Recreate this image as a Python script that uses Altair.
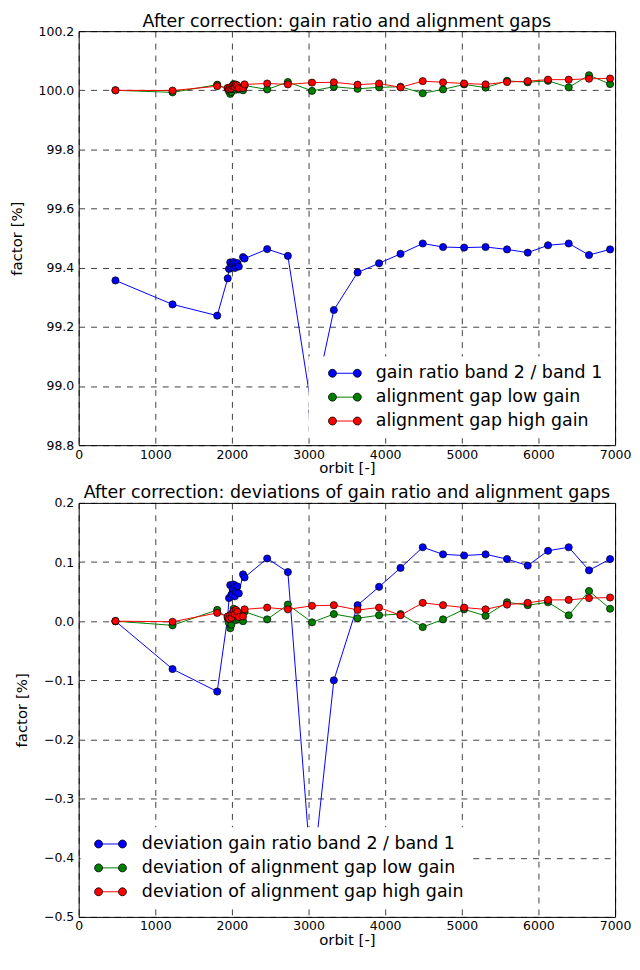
import altair as alt
import pandas as pd

# ---------------- data ----------------
orbit = [480, 1225, 1808,
         1945, 1962, 1978, 1993, 2008, 2023, 2038, 2053, 2070, 2090, 2145, 2165,
         2460, 2730, 3045, 3330, 3640, 3920, 4200, 4490, 4755, 5030, 5310,
         5590, 5860, 6125, 6395, 6660, 6935]

gain_ratio = [99.357, 99.276, 99.238,
              99.364, 99.396, 99.418, 99.402, 99.412, 99.419, 99.399, 99.407, 99.416, 99.404, 99.436, 99.431,
              99.463, 99.440, 98.914, 99.257, 99.384, 99.415, 99.447, 99.482, 99.470, 99.468, 99.470,
              99.462, 99.451, 99.476, 99.482, 99.443, 99.462]

gap_low = [100.000, 99.993, 100.019,
           100.005, 99.997, 99.988, 99.994, 100.004, 100.021, 100.018, 100.002, 100.012, 100.003, 100.000, 100.016,
           100.003, 100.028, 99.998, 100.012, 100.005, 100.010, 100.012, 99.990, 100.003, 100.020, 100.009,
           100.032, 100.027, 100.032, 100.010, 100.051, 100.021]

gap_high = [100.000, 99.999, 100.014,
            100.008, 100.004, 100.010, 100.006, 100.014, 100.017, 100.012, 100.019, 100.016, 100.007, 100.008, 100.020,
            100.023, 100.020, 100.026, 100.027, 100.019, 100.023, 100.010, 100.031, 100.027, 100.023, 100.020,
            100.028, 100.031, 100.036, 100.036, 100.039, 100.040]

top_labels = ["gain ratio band 2 / band 1",
              "alignment gap low gain",
              "alignment gap high gain"]
bot_labels = ["deviation gain ratio band 2 / band 1",
              "deviation of alignment gap low gain",
              "deviation of alignment gap high gain"]
colors = ["#0000ff", "#008000", "#ff0000"]
keys = ["a", "b", "c"]

x_ticks = [0, 1000, 2000, 3000, 4000, 5000, 6000, 7000]
top_y_ticks = [98.8, 99.0, 99.2, 99.4, 99.6, 99.8, 100.0, 100.2]
bot_y_ticks = [-0.5, -0.4, -0.3, -0.2, -0.1, 0.0, 0.1, 0.2]

FONT = "DejaVu Sans"


def long_table(series, labels):
    rows = []
    for lab, key, vals in zip(labels, keys, series):
        for o, v in zip(orbit, vals):
            rows.append({"orbit": o, "value": v, "series": lab, "key": key})
    return pd.DataFrame(rows)


top_df = long_table([gain_ratio, gap_low, gap_high], top_labels)
dev_series = [[v - s[0] for v in s] for s in (gain_ratio, gap_low, gap_high)]
bot_df = long_table(dev_series, bot_labels)


def circle(cx, r=0.5):
    return (f"M{cx - r:.3f},0A{r},{r} 0 1,0 {cx + r:.3f},0"
            f"A{r},{r} 0 1,0 {cx - r:.3f},0Z")


def panel(df, labels, title, ydom, yticks, lx, ly, c1, c2, label_offset):
    xenc = alt.X("orbit:Q",
                 scale=alt.Scale(domain=[0, 7000], nice=False, zero=False),
                 axis=alt.Axis(values=x_ticks, format="d", title="orbit [-]"))
    yenc = alt.Y("value:Q",
                 scale=alt.Scale(domain=ydom, nice=False, zero=False),
                 axis=alt.Axis(values=yticks, format=".1f", title="factor [%]"))
    common = dict(title=None, orient="none", legendX=lx, legendY=ly,
                  symbolSize=256, padding=8, labelOffset=label_offset,
                  rowPadding=5, labelFontSize=17.5, labelFont=FONT,
                  labelColor="black", labelLimit=0)
    stroke_leg = alt.Legend(symbolType=f"M{c1},0L{c2},0", symbolStrokeWidth=1,
                            symbolFillColor="transparent", fillColor="white",
                            zindex=1, **common)
    # second legend only supplies the black-edged markers of each entry
    fill_leg = alt.Legend(symbolType=circle(c1) + circle(c2),
                          symbolStrokeColor="black", symbolStrokeWidth=0.8,
                          labelExpr="' '", zindex=2, **common)
    layers = []
    for key in keys:
        sub = alt.Chart(df).transform_filter(alt.datum.key == key)
        layers.append(
            sub.mark_line(strokeWidth=1).encode(
                x=xenc, y=yenc,
                stroke=alt.Stroke("series:N",
                                  scale=alt.Scale(domain=labels, range=colors),
                                  legend=stroke_leg)))
        layers.append(
            sub.mark_circle(size=52, opacity=1, stroke="black", strokeWidth=0.7).encode(
                x=xenc, y=yenc,
                fill=alt.Fill("key:N",
                              scale=alt.Scale(domain=keys, range=colors),
                              legend=fill_leg)))
    return alt.layer(*layers).properties(
        width=539, height=416,
        title=alt.TitleParams(title, fontSize=17.5, font=FONT, fontWeight="normal",
                              anchor="middle", frame="group", offset=-5, color="black"))


# legend entries start 8px inside the box; symbol centre = entry left + 8.75 px,
# one path unit = 8 px
top = panel(top_df, top_labels, "After correction: gain ratio and alignment gaps",
            [98.8, 100.2], top_y_ticks, 231, 327, 0.906, 4.031, 42)
bottom = panel(bot_df, bot_labels,
               "After correction: deviations of gain ratio and alignment gaps",
               [-0.5, 0.2], bot_y_ticks, 2, 326, 0.156, 3.156, 36)

chart = (
    alt.vconcat(top, bottom, spacing=8)
    .resolve_scale(stroke="independent", fill="independent")
    .resolve_legend(stroke="independent", fill="independent")
    .properties(padding={"left": 0, "top": 2, "right": 0, "bottom": 0})
    .configure_axis(labelFont=FONT, labelFontSize=12.5, labelColor="black",
                    titleFont=FONT, titleFontSize=15, titleFontWeight="normal",
                    titleColor="black", grid=True, gridColor="black",
                    gridDash=[6, 6], gridOpacity=0.75, gridWidth=1,
                    domain=False, ticks=False, labelFlush=False)
    .configure_axisX(labelPadding=3, titlePadding=0)
    .configure_axisY(labelPadding=5, titlePadding=14)
    .configure_view(stroke="black", strokeWidth=1)
)

chart.save("out.html", embed_options={"renderer": "svg", "actions": False})
